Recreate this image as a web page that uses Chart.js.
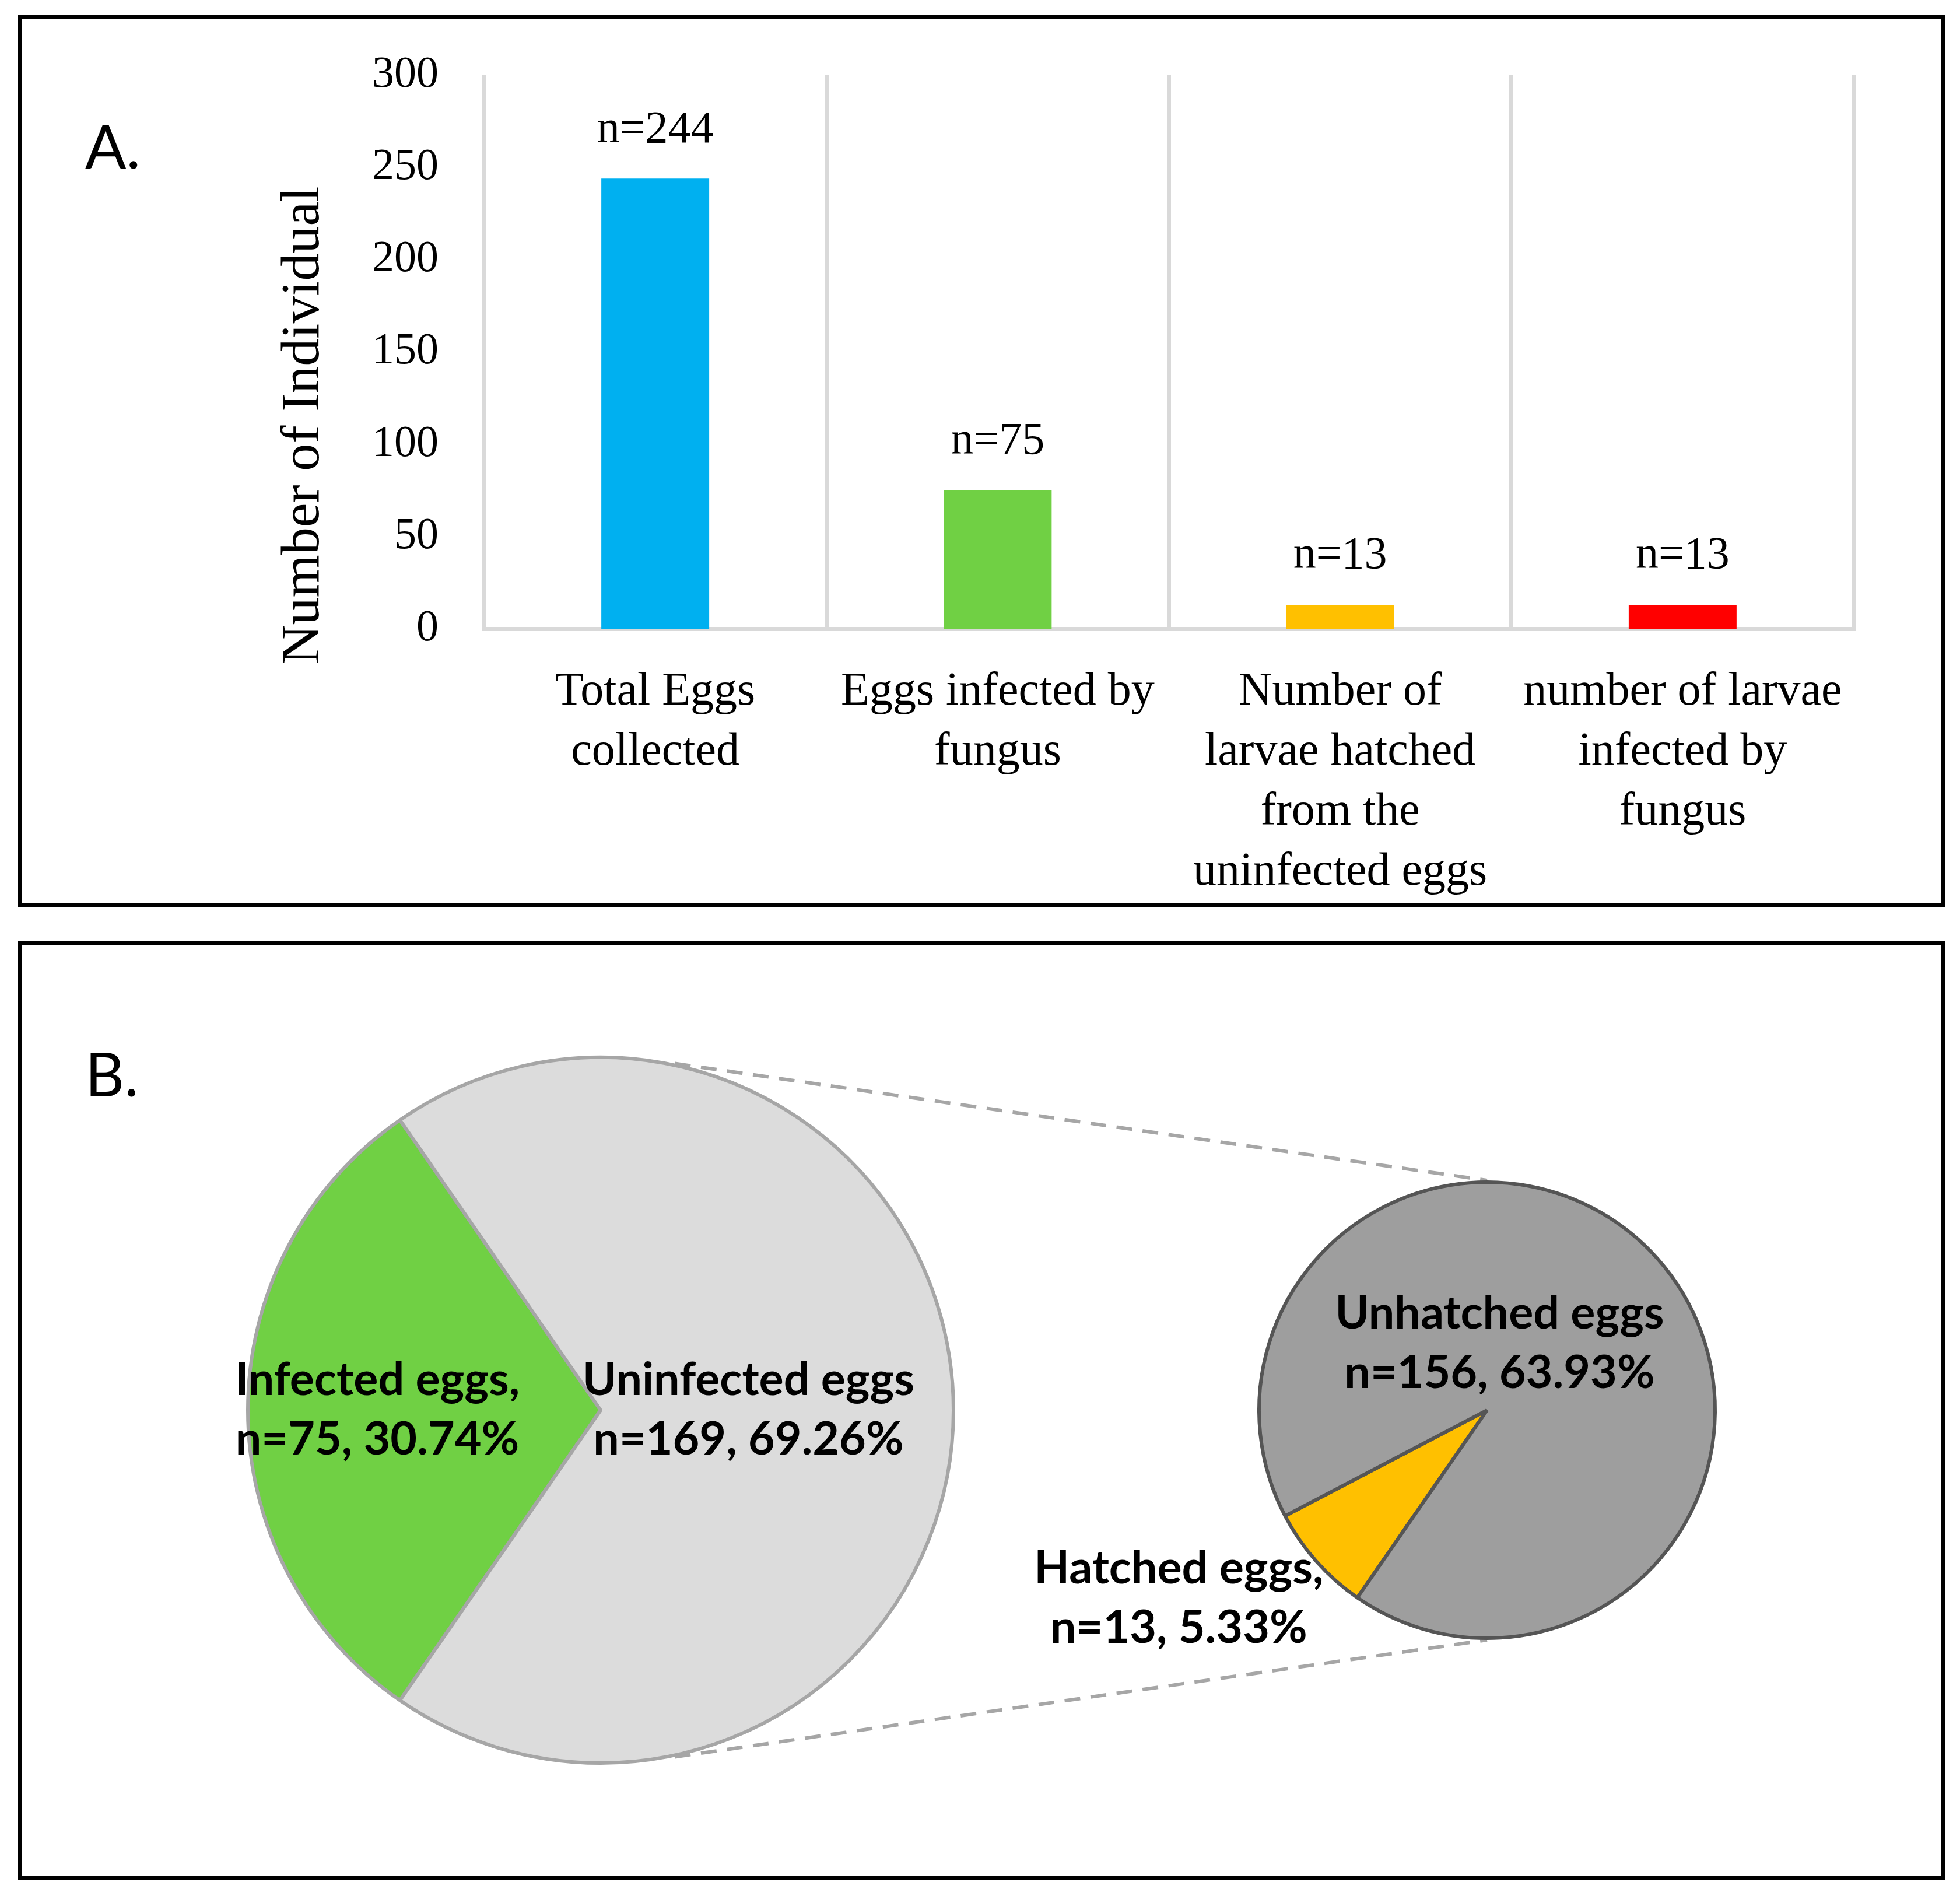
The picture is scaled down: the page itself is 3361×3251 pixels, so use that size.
<!DOCTYPE html>
<html>
<head>
<meta charset="utf-8">
<script src="https://cdn.jsdelivr.net/npm/chart.js@4.4.1/dist/chart.umd.min.js"></script>
<style>
html,body{margin:0;padding:0;background:#fff;}
body{width:3361px;height:3251px;position:relative;overflow:hidden;}
.box{position:absolute;box-sizing:border-box;border:7px solid #000;}
.lbl{position:absolute;font-family:Lato,"Open Sans",sans-serif;font-size:104px;line-height:104px;color:#000;}
canvas{position:absolute;}
</style>
</head>
<body>
<div class="box" style="left:31px;top:26px;width:3305px;height:1530px"></div>
<div class="box" style="left:31px;top:1614px;width:3305px;height:1609px"></div>
<div class="lbl" style="left:146px;top:197px">A.</div>
<div class="lbl" style="left:146px;top:1788px">B.</div>
<canvas id="bar" width="3291" height="1516" style="left:38px;top:33px;width:3291px;height:1516px"></canvas>
<canvas id="pieMain" width="3291" height="1595" style="left:38px;top:1621px;width:3291px;height:1595px"></canvas>
<canvas id="pieSub" width="3291" height="1595" style="left:38px;top:1621px;width:3291px;height:1595px"></canvas>
<script>
// ---------------- DATA ----------------
const barCategories = [
  ['Total Eggs', 'collected'],
  ['Eggs infected by', 'fungus'],
  ['Number of', 'larvae hatched', 'from the', 'uninfected eggs'],
  ['number of larvae', 'infected by', 'fungus']
];
const barValues = [244, 75, 13, 13];
const yTickValues = [0, 50, 100, 150, 200, 250, 300];
const yAxisTitle = 'Number of Individual';

const mainPieNames = ['Infected eggs,', 'Uninfected eggs'];
const mainPieValues = [75, 169];
const subPieNames = ['Hatched eggs,', 'Unhatched eggs'];
const subPieValues = [13, 156];

// ---------------- STYLE ----------------
const barColors = ['#00B0F0', '#70D044', '#FFC000', '#FF0000'];
const gridColor = '#D9D9D9';
const serif = '"Liberation Serif", "DejaVu Serif", serif';
const sans = 'Lato, "Open Sans", sans-serif';
const mainPieColors = ['#70D044', '#DCDCDC'];
const mainPieBorder = '#A6A6A6';
const subPieColors = ['#FFC000', '#9E9E9E'];
const subPieBorder = '#555555';
const mainLabelPlacement = [{mode: 'polar', r: 0.633}, {mode: 'polar', r: 0.419}];
const subLabelPlacement = [{mode: 'offset', dx: -1.352, dy: 0.826}, {mode: 'offset', dx: 0.055, dy: -0.292}];
const connectorAngleDeg = 12.1;

const total = mainPieValues.reduce((a, b) => a + b, 0);
const pct = v => (v / total * 100).toFixed(2) + '%';
const mainLabelText = mainPieNames.map((n, i) => [n, 'n=' + mainPieValues[i] + ', ' + pct(mainPieValues[i])]);
const subLabelText = subPieNames.map((n, i) => [n, 'n=' + subPieValues[i] + ', ' + pct(subPieValues[i])]);
// Pie-of-pie: infected slice centred on the left side
const pieRotation = 270 - (mainPieValues[0] / total * 360) / 2;

// ---------------- BAR CHART ----------------
const barLabelPlugin = {
  id: 'barLabels',
  afterDatasetsDraw(chart) {
    const ctx = chart.ctx;
    const meta = chart.getDatasetMeta(0);
    ctx.save();
    ctx.font = '78px ' + serif;
    ctx.fillStyle = '#000';
    ctx.textAlign = 'center';
    ctx.textBaseline = 'middle';
    meta.data.forEach((bar, i) => {
      ctx.fillText('n=' + barValues[i], bar.x, bar.y - 83);
    });
    ctx.restore();
  }
};
const yTitlePlugin = {
  id: 'yTitle',
  afterDraw(chart) {
    const ctx = chart.ctx;
    const a = chart.chartArea;
    ctx.save();
    ctx.translate(a.left - 309, (a.top + a.bottom) / 2 + 126);
    ctx.rotate(-Math.PI / 2);
    ctx.font = '94px ' + serif;
    ctx.fillStyle = '#000';
    ctx.textAlign = 'center';
    ctx.textBaseline = 'middle';
    ctx.fillText(yAxisTitle, 0, 0);
    ctx.restore();
  }
};

new Chart(document.getElementById('bar'), {
  type: 'bar',
  data: {
    labels: barCategories,
    datasets: [{
      data: barValues,
      backgroundColor: barColors,
      borderWidth: 0,
      barPercentage: 0.315,
      categoryPercentage: 1
    }]
  },
  options: {
    responsive: false,
    animation: false,
    devicePixelRatio: 1,
    layout: {padding: {top: 96, right: 150, left: 0, bottom: 0}},
    plugins: {legend: {display: false}, tooltip: {enabled: false}},
    scales: {
      x: {
        offset: true,
        grid: {display: true, color: gridColor, lineWidth: 7, drawTicks: false, offset: true},
        border: {display: true, color: gridColor, width: 7},
        ticks: {color: '#000', font: {family: serif, size: 80, lineHeight: 1.29}, padding: 57, maxRotation: 0, autoSkip: false},
        afterFit(s) { s.height = 471; }
      },
      y: {
        min: 0, max: 300,
        afterBuildTicks(s) { s.ticks = yTickValues.map(v => ({value: v})); },
        grid: {display: false},
        border: {display: false},
        ticks: {color: '#000', font: {family: serif, size: 76}, padding: 70},
        afterFit(s) { s.width = 792; s.paddingTop = 0; s.paddingBottom = 0; }
      }
    }
  },
  plugins: [barLabelPlugin, yTitlePlugin]
});

// ---------------- PIE CHARTS ----------------
function makePieLabelPlugin(texts, placement) {
  return {
    id: 'pieLabels',
    afterDatasetsDraw(chart) {
      const ctx = chart.ctx;
      const meta = chart.getDatasetMeta(0);
      ctx.save();
      ctx.font = 'bold 79px ' + sans;
      ctx.fillStyle = '#000';
      ctx.textAlign = 'center';
      ctx.textBaseline = 'middle';
      meta.data.forEach((arc, i) => {
        const p = arc.getProps(['x', 'y', 'outerRadius', 'startAngle', 'endAngle'], true);
        const pl = placement[i];
        let px, py;
        if (pl.mode === 'polar') {
          const mid = (p.startAngle + p.endAngle) / 2;
          px = p.x + Math.cos(mid) * p.outerRadius * pl.r;
          py = p.y + Math.sin(mid) * p.outerRadius * pl.r;
        } else {
          px = p.x + pl.dx * p.outerRadius;
          py = p.y + pl.dy * p.outerRadius;
        }
        const lines = texts[i];
        lines.forEach((t, k) => ctx.fillText(t, px, py + (k - (lines.length - 1) / 2) * 102));
      });
      ctx.restore();
    }
  };
}

const mainChart = new Chart(document.getElementById('pieMain'), {
  type: 'pie',
  data: {
    labels: mainPieNames,
    datasets: [{
      data: mainPieValues,
      backgroundColor: mainPieColors,
      borderColor: mainPieBorder,
      borderWidth: 6,
      hoverOffset: 0
    }]
  },
  options: {
    responsive: false,
    animation: false,
    devicePixelRatio: 1,
    rotation: pieRotation,
    layout: {padding: {left: 384, top: 189, right: 1691, bottom: 190}},
    plugins: {legend: {display: false}, tooltip: {enabled: false}}
  },
  plugins: [makePieLabelPlugin(mainLabelText, mainLabelPlacement)]
});

const connectorPlugin = {
  id: 'connectors',
  beforeDatasetsDraw(chart) {
    const ctx = chart.ctx;
    const m = mainChart.getDatasetMeta(0).data[0].getProps(['x', 'y', 'outerRadius'], true);
    const s = chart.getDatasetMeta(0).data[0].getProps(['x', 'y', 'outerRadius'], true);
    const th = connectorAngleDeg * Math.PI / 180;
    const mr = m.outerRadius + 3, sr = s.outerRadius + 3;
    ctx.save();
    ctx.strokeStyle = '#A6A6A6';
    ctx.lineWidth = 6;
    ctx.setLineDash([27, 18]);
    [-1, 1].forEach(sign => {
      ctx.beginPath();
      ctx.moveTo(m.x + Math.sin(th) * mr, m.y + sign * Math.cos(th) * mr);
      ctx.lineTo(s.x, s.y + sign * sr);
      ctx.stroke();
    });
    ctx.restore();
  }
};

new Chart(document.getElementById('pieSub'), {
  type: 'pie',
  data: {
    labels: subPieNames,
    datasets: [{
      data: subPieValues,
      backgroundColor: subPieColors,
      borderColor: subPieBorder,
      borderWidth: 6,
      hoverOffset: 0
    }]
  },
  options: {
    responsive: false,
    animation: false,
    devicePixelRatio: 1,
    rotation: pieRotation,
    layout: {padding: {left: 2118, top: 403, right: 385, bottom: 404}},
    plugins: {legend: {display: false}, tooltip: {enabled: false}}
  },
  plugins: [connectorPlugin, makePieLabelPlugin(subLabelText, subLabelPlacement)]
});
</script>
</body>
</html>
